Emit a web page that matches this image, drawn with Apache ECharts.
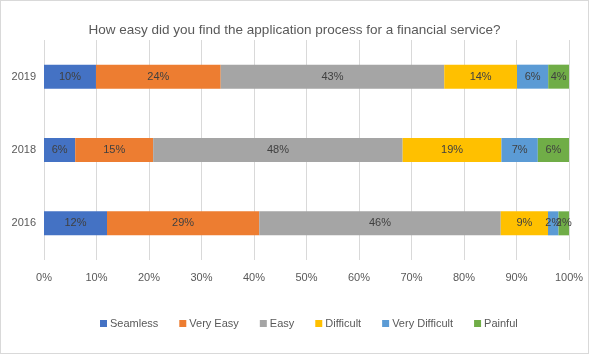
<!DOCTYPE html>
<html>
<head>
<meta charset="utf-8" />
<title></title>
<script src="https://cdn.jsdelivr.net/npm/echarts@6/dist/echarts.min.js"></script>
<style>
  html, body { margin: 0; padding: 0; background: #fff; }
  #main { width: 587px; height: 352px; border: 1px solid #d9d9d9; }
</style>
</head>
<body>
<div id="main"></div>
<script type="text/javascript">
// survey answers, raw percentages as shown in the labels
var years = ['2016', '2018', '2019'];
var answers = ['Seamless', 'Very Easy', 'Easy', 'Difficult', 'Very Difficult', 'Painful'];
var seamless = [12, 6, 10];
var veryEasy = [29, 15, 24];
var easy = [46, 48, 43];
var difficult = [9, 19, 14];
var veryDifficult = [2, 7, 6];
var painful = [2, 6, 4];
var colors = ['#4472C4', '#ED7D31', '#A5A5A5', '#FFC000', '#5B9BD5', '#70AD47'];

var raw = [seamless, veryEasy, easy, difficult, veryDifficult, painful];
// 100% stacked: normalise each year by its total
var totals = years.map(function (y, i) {
    var s = 0;
    raw.forEach(function (r) { s += r[i]; });
    return s;
});

var series = raw.map(function (vals, k) {
    return {
        name: answers[k],
        type: 'bar',
        stack: 'all',
        barWidth: 24,
        itemStyle: { color: colors[k] },
        label: {
            show: true,
            position: 'inside',
            color: '#404040',
            fontSize: 11,
            fontFamily: 'Liberation Sans',
            formatter: function (p) { return vals[p.dataIndex] + '%'; }
        },
        data: vals.map(function (v, i) { return v / totals[i] * 100; })
    };
});

var myChart = echarts.init(document.getElementById('main'));
myChart.setOption({
    animation: false,
    title: {
        text: 'How easy did you find the application process for a financial service?',
        left: 'center',
        top: 17,
        textStyle: { fontSize: 13.5, fontWeight: 'normal', color: '#595959', fontFamily: 'Liberation Sans' }
    },
    legend: {
        data: answers,
        bottom: 19,
        left: 94,
        itemWidth: 7,
        itemHeight: 7,
        itemGap: 21,
        icon: 'rect',
        textStyle: { fontSize: 11, color: '#595959', fontFamily: 'Liberation Sans', padding: [0, 0, 0, -2] }
    },
    grid: { left: 43, right: 19, top: 39, bottom: 93, containLabel: false },
    xAxis: {
        type: 'value',
        min: 0,
        max: 100,
        interval: 10,
        axisLine: { show: false },
        axisTick: { show: false },
        splitLine: { lineStyle: { color: '#d9d9d9' } },
        axisLabel: {
            formatter: '{value}%',
            color: '#595959',
            fontSize: 11,
            margin: 12,
            fontFamily: 'Liberation Sans'
        }
    },
    yAxis: {
        type: 'category',
        data: years,
        axisLine: { show: false },
        axisTick: { show: false },
        axisLabel: { color: '#595959', fontSize: 11, margin: 8, fontFamily: 'Liberation Sans' }
    },
    series: series
});
</script>
</body>
</html>
